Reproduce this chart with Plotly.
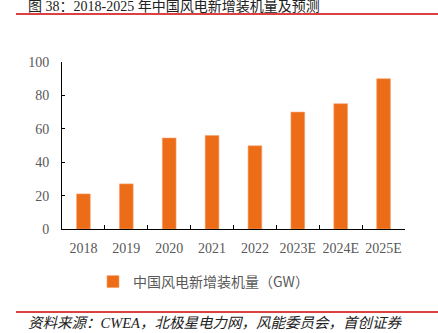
import plotly.graph_objects as go

categories = ["2018", "2019", "2020", "2021", "2022", "2023E", "2024E", "2025E"]
values = [21, 27, 54.5, 56, 49.8, 70, 75, 90]
series_name = "中国风电新增装机量（GW）"
y_ticks = [0, 20, 40, 60, 80, 100]

W, H = 438, 333
L, R, T, B = 62, 33, 62, 104
pw, ph = W - L - R, H - T - B

def px_x(x):
    return (x - L) / pw

def px_y(y):
    return (H - B - y) / ph

serif = "Liberation Serif, Noto Sans CJK SC, serif"
grey = "#595959"

fig = go.Figure()
fig.add_trace(go.Bar(
    x=categories, y=values, name=series_name,
    marker=dict(color="#EC6C17", line=dict(color="#F5A56E", width=0.6)),
    showlegend=True,
))

fig.update_layout(
    width=W, height=H,
    margin=dict(l=L, r=R, t=T, b=B, pad=0),
    paper_bgcolor="white", plot_bgcolor="white",
    bargap=0.68,
    font=dict(family=serif, size=14, color=grey),
    showlegend=True,
    legend=dict(
        orientation="h", x=px_x(93), xanchor="left", y=px_y(282), yanchor="middle",
        font=dict(family="Noto Sans CJK SC, sans-serif", size=14, color=grey),
        itemwidth=30, bgcolor="rgba(0,0,0,0)",
    ),
    xaxis=dict(
        type="category", showline=True, linecolor="black", linewidth=1,
        ticks="inside", ticklen=4, tickcolor="black", tickson="boundaries",
        tickfont=dict(family=serif, size=14, color=grey), tickangle=0,
        showgrid=False, zeroline=False, fixedrange=True,
        ticklabelstandoff=6,
    ),
    yaxis=dict(
        range=[0, 100], tickvals=y_ticks, showline=True, linecolor="black", linewidth=1,
        ticks="inside", ticklen=3, tickcolor="black",
        tickfont=dict(family=serif, size=14, color=grey),
        showgrid=False, zeroline=False, fixedrange=True,
        ticklabelstandoff=9,
    ),
    shapes=[
        dict(type="line", xref="paper", yref="paper", x0=px_x(16), x1=px_x(438),
             y0=px_y(14), y1=px_y(14), line=dict(color="#D00000", width=1.5)),
        dict(type="line", xref="paper", yref="paper", x0=px_x(16), x1=px_x(438),
             y0=px_y(312), y1=px_y(312), line=dict(color="#D00000", width=1.5)),
    ],
    annotations=[
        dict(text="图 38：2018-2025 年中国风电新增装机量及预测", xref="paper", yref="paper",
             x=px_x(26), y=px_y(7), xanchor="left", yanchor="middle", showarrow=False,
             font=dict(family="Liberation Serif, Noto Sans CJK SC, serif", size=14, color="#222222")),
        dict(text="<i>资料来源：CWEA，北极星电力网，风能委员会，首创证券</i>", xref="paper", yref="paper",
             x=px_x(26), y=px_y(323), xanchor="left", yanchor="middle", showarrow=False,
             font=dict(family="Liberation Serif, Noto Sans CJK SC, serif", size=14.5, color="#222222")),
    ],
)

fig.write_html("out.html")
